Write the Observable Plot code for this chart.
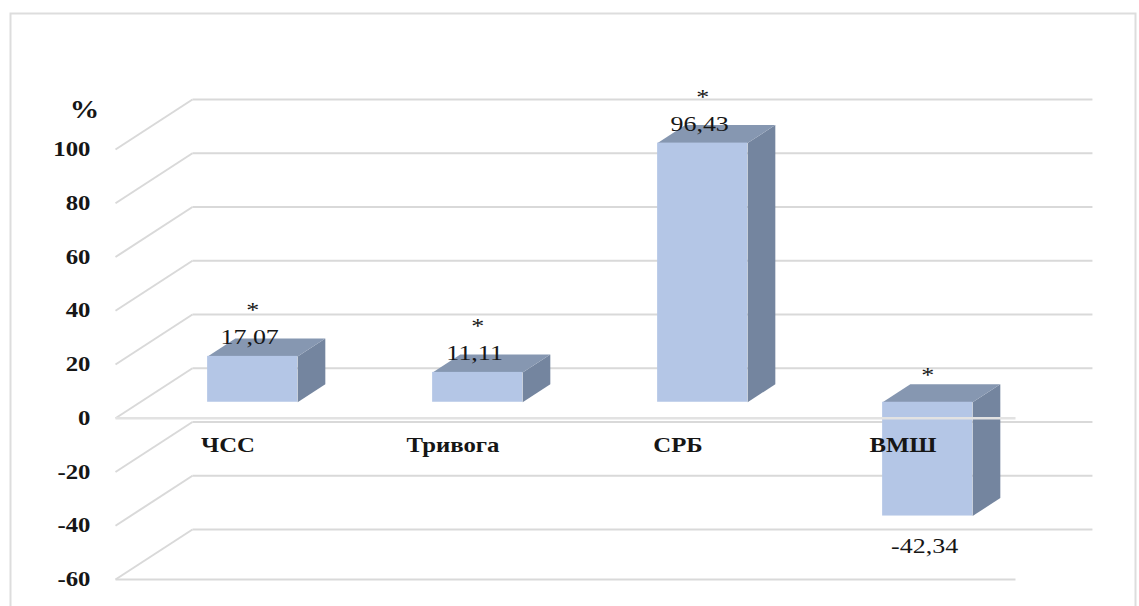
<!DOCTYPE html>
<html>
<head>
<meta charset="utf-8">
<script src="https://cdn.jsdelivr.net/npm/d3@7"></script>
<script src="https://cdn.jsdelivr.net/npm/@observablehq/plot@0.6"></script>
<style>
  body { margin: 0; background: #fff; }
  #chart svg text { font-family: "Liberation Serif", "Times New Roman", serif; }
</style>
</head>
<body>
<div id="chart"></div>
<script>
// Data
const categories = ["ЧСС", "Тривога", "СРБ", "ВМШ"];
const values = [17.07, 11.11, 96.43, -42.34];
const valueLabels = ["17,07", "11,11", "96,43", "-42,34"];
const signif = ["*", "*", "*", "*"];
const yTicks = [-60, -40, -20, 0, 20, 40, 60, 80, 100];
const yUnit = "%";

// Oblique 3D projection: a depth z in [0, 1] shifts a point right and up.
const DEPTH_X = 0.342;  // in category-band units
const DEPTH_Y = 18.6;   // in value units
const BAR_Z0 = 0.32, BAR_Z1 = 0.68, BAR_HALF = 0.2;
const px = (x, z) => x + z * DEPTH_X;
const py = (v, z) => v + z * DEPTH_Y;

const bars = categories.map((name, i) => ({
  name, i, c: i + 0.5, v: values[i], label: valueLabels[i], star: signif[i]
}));

const face = (b, pts) => pts.map(([x, v, z]) => ({key: b.i, x: px(x, z), y: py(v, z)}));

const sides = bars.flatMap(b => face(b, [
  [b.c + BAR_HALF, 0, BAR_Z0], [b.c + BAR_HALF, b.v, BAR_Z0],
  [b.c + BAR_HALF, b.v, BAR_Z1], [b.c + BAR_HALF, 0, BAR_Z1]
]));
const tops = bars.flatMap(b => {
  const t = Math.max(b.v, 0);
  return face(b, [
    [b.c - BAR_HALF, t, BAR_Z0], [b.c + BAR_HALF, t, BAR_Z0],
    [b.c + BAR_HALF, t, BAR_Z1], [b.c - BAR_HALF, t, BAR_Z1]
  ]);
});

const FONT = "Liberation Serif";
const GRID = "#d9d9d9";
const TEXT = "#161616";
const nCat = categories.length;
const pos = bars.filter(b => b.v >= 0);
const neg = bars.filter(b => b.v < 0);

const chart = Plot.plot({
  width: 1139,
  height: 606,
  marginLeft: 115,
  marginRight: 124,
  marginTop: 149,
  marginBottom: 27,
  x: {type: "linear", domain: [0, nCat], axis: null},
  y: {type: "linear", domain: [d3.min(yTicks), d3.max(yTicks)], axis: null},
  style: {background: "#fff", overflow: "visible"},
  marks: [
    // outer chart border
    Plot.frame({stroke: "#dddddd", strokeWidth: 2, insetLeft: -105, insetTop: -136, insetRight: -120, insetBottom: -40}),
    // back wall gridlines
    Plot.link(yTicks, {
      x1: () => px(0, 1), x2: () => px(nCat, 1),
      y1: t => py(t, 1), y2: t => py(t, 1),
      stroke: GRID, strokeWidth: 2
    }),
    // side wall gridlines
    Plot.link(yTicks, {
      x1: () => px(0, 0), x2: () => px(0, 1),
      y1: t => py(t, 0), y2: t => py(t, 1),
      stroke: GRID, strokeWidth: 2
    }),
    // floor front edge
    Plot.link([d3.min(yTicks)], {
      x1: () => px(0, 0), x2: () => px(nCat, 0),
      y1: t => t, y2: t => t,
      stroke: GRID, strokeWidth: 2
    }),
    // bar faces
    Plot.line(sides, {x: "x", y: "y", z: "key", fill: "#74859f", stroke: "none"}),
    Plot.line(tops, {x: "x", y: "y", z: "key", fill: "#8697b1", stroke: "none"}),
    Plot.rect(bars, {
      x1: b => px(b.c - BAR_HALF, BAR_Z0), x2: b => px(b.c + BAR_HALF, BAR_Z0),
      y1: b => py(0, BAR_Z0), y2: b => py(b.v, BAR_Z0),
      fill: "#b4c6e6"
    }),
    // horizontal axis on the front plane
    Plot.link([0], {
      x1: () => px(0, 0), x2: () => px(nCat, 0),
      y1: t => t, y2: t => t,
      stroke: "#e2e2e2", strokeWidth: 2.5
    }),
    // y tick labels
    Plot.text(yTicks, {
      x: () => 0, y: t => t, text: t => String(t),
      dx: -25, textAnchor: "end", fontFamily: FONT, fontSize: 21, fontWeight: "bold", fill: TEXT
    }),
    // unit label
    Plot.text([yUnit], {
      frameAnchor: "top-left", text: d => d, dx: -31, dy: -49,
      textAnchor: "middle", fontFamily: FONT, fontSize: 25, fontWeight: "bold", fill: TEXT
    }),
    // category labels
    Plot.text(bars, {
      x: "c", y: () => 0, text: "name", dy: 27,
      fontFamily: FONT, fontSize: 21, fontWeight: "bold", fill: TEXT
    }),
    // value labels and significance marks
    Plot.text(pos, {
      x: b => px(b.c, BAR_Z0), y: b => py(b.v, BAR_Z0), text: "label",
      dx: -3, dy: -19, fontFamily: FONT, fontSize: 22, fill: TEXT
    }),
    Plot.text(pos, {
      x: b => px(b.c, BAR_Z0), y: b => py(b.v, BAR_Z0), text: "star",
      dy: -46, fontFamily: FONT, fontSize: 22, fill: TEXT
    }),
    Plot.text(neg, {
      x: b => px(b.c, BAR_Z0), y: b => py(b.v, BAR_Z0), text: "label",
      dx: -3, dy: 30, fontFamily: FONT, fontSize: 22, fill: TEXT
    }),
    Plot.text(neg, {
      x: b => px(b.c, BAR_Z0), y: b => py(0, BAR_Z0), text: "star",
      dy: -27, fontFamily: FONT, fontSize: 22, fill: TEXT
    })
  ]
});

document.getElementById("chart").append(chart);

// widen the serif glyphs slightly
chart.querySelectorAll("text").forEach(el => {
  const w = el.getComputedTextLength();
  if (w > 0) {
    el.setAttribute("textLength", (w * 1.18).toFixed(1));
    el.setAttribute("lengthAdjust", "spacingAndGlyphs");
  }
});
</script>
</body>
</html>
